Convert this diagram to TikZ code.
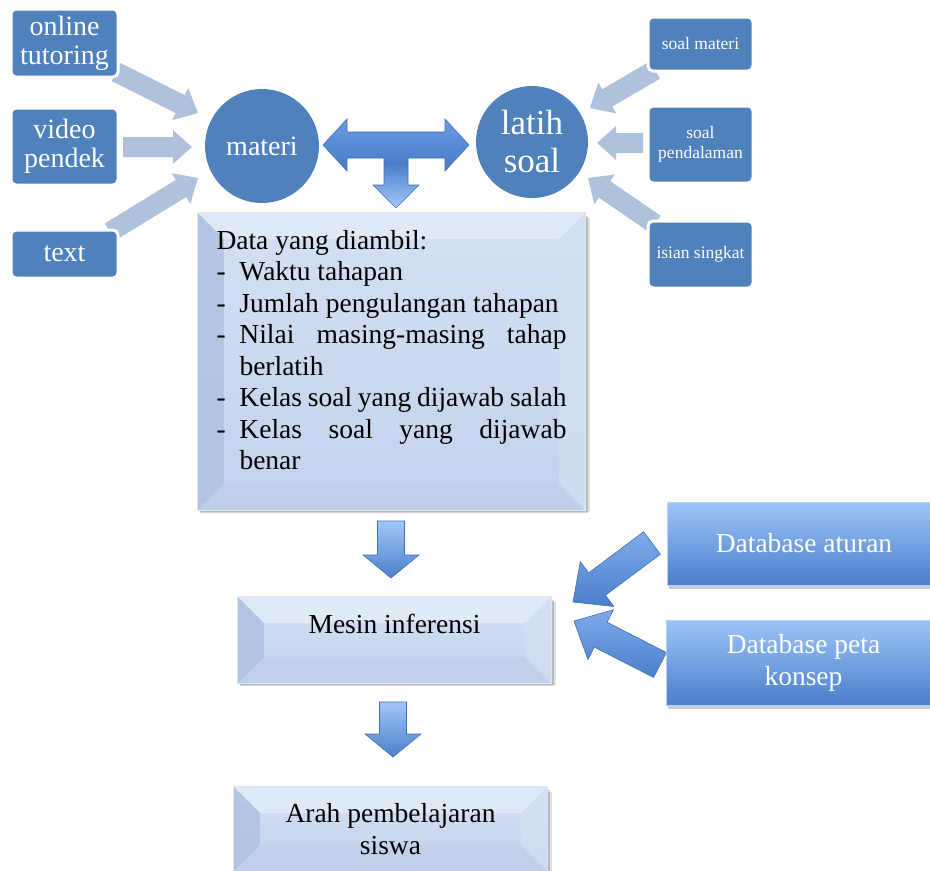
\documentclass[tikz,border=0pt]{standalone}
\usepackage{fontspec}
\setmainfont{Liberation Serif}
\usetikzlibrary{calc,backgrounds}

\definecolor{boxblue}{HTML}{4F81BD}
\definecolor{lightarr}{HTML}{B0C1DC}
\definecolor{faceT}{HTML}{D4E0F3}
\definecolor{faceB}{HTML}{C3D3EC}
\definecolor{bevTop}{HTML}{E4ECF8}
\definecolor{bevLeft}{HTML}{ADC0DD}
\definecolor{bevRight}{HTML}{D2DEF1}
\definecolor{bevBot}{HTML}{BCCCE6}
\definecolor{bevEdge}{HTML}{DCE6F4}
\definecolor{dbT}{HTML}{9EC4F8}
\definecolor{dbB}{HTML}{4A7FCB}
\definecolor{dbEdge}{HTML}{B6D2FA}
\definecolor{arrT}{HTML}{A2C6F8}
\definecolor{arrB}{HTML}{4C80CB}
\definecolor{dbaT}{HTML}{7FABEA}
\definecolor{dbaB}{HTML}{4A7FCB}
\definecolor{tarT}{HTML}{6B9DE2}
\definecolor{tarM}{HTML}{4A7ECA}
\definecolor{tarB}{HTML}{A6C8F9}
\definecolor{arrEdge}{HTML}{3F6FB5}

% block arrow: #1 style, #2 tail, #3 tip, #4 shaft half width, #5 head half width, #6 head length
\newcommand\blockarr[6]{%
  \coordinate (ba-h) at ($(#3)!#6!(#2)$);
  \path[#1] ($(#2)!#4!90:(#3)$) -- ($(ba-h)!#4!90:(#3)$) -- ($(ba-h)!#5!90:(#3)$)
    -- (#3) -- ($(ba-h)!#5!-90:(#3)$) -- ($(ba-h)!#4!-90:(#3)$) -- ($(#2)!#4!-90:(#3)$) -- cycle;}

% bevel decoration behind a node: #1 node name, #2 bevel size
\newcommand\bevelize[2]{%
  \begin{scope}[on background layer]
    \fill[black,opacity=0.12] ([xshift=2pt,yshift=-2pt]#1.south west) rectangle ([xshift=5pt,yshift=-5pt]#1.north east);
    \fill[black,opacity=0.18] ([xshift=2pt,yshift=-3pt]#1.south west) rectangle ([xshift=3pt,yshift=-3pt]#1.north east);
    \shade[top color=faceT,bottom color=faceB] (#1.south west) rectangle (#1.north east);
    \fill[bevTop,opacity=0.8] (#1.north west) -- (#1.north east) -- ([xshift=-#2,yshift=-#2]#1.north east) -- ([xshift=#2,yshift=-#2]#1.north west) -- cycle;
    \fill[bevLeft,opacity=0.8] (#1.north west) -- ([xshift=#2,yshift=-#2]#1.north west) -- ([xshift=#2,yshift=#2]#1.south west) -- (#1.south west) -- cycle;
    \fill[bevRight,opacity=0.8] (#1.north east) -- ([xshift=-#2,yshift=-#2]#1.north east) -- ([xshift=-#2,yshift=#2]#1.south east) -- (#1.south east) -- cycle;
    \fill[bevBot,opacity=0.45] (#1.south west) -- ([xshift=#2,yshift=#2]#1.south west) -- ([xshift=-#2,yshift=#2]#1.south east) -- (#1.south east) -- cycle;
    \draw[bevEdge,line width=0.8pt] (#1.south west) rectangle (#1.north east);
  \end{scope}}

\newcommand\itm[1]{\makebox[23pt][l]{-}#1}

\tikzset{
  labelbox/.style={fill=boxblue, draw=white, line width=3pt, rounded corners=5pt, text=white,
    inner sep=0pt, align=center, font=\fontsize{28}{29}\selectfont},
  smallbox/.style={labelbox, font=\fontsize{17.5}{20}\selectfont},
  circ/.style={circle, fill=boxblue, text=white, inner sep=0pt, align=center},
  lightarrow/.style={fill=lightarr},
  bluearrow/.style={top color=arrT, bottom color=arrB, draw=arrEdge, line width=0.6pt},
  dbarrow/.style={top color=dbaT, bottom color=dbaB, draw=arrEdge, line width=0.6pt},
  tarrow/.style={top color=tarT, bottom color=tarB, middle color=tarM, draw=arrEdge, line width=0.6pt},
  bevelnode/.style={inner sep=0pt, align=center, font=\fontsize{27.5}{32}\selectfont},
  dbbox/.style={top color=dbT, bottom color=dbB, draw=dbEdge, line width=0.8pt, inner sep=0pt,
    text=white, align=center, font=\fontsize{27.5}{32}\selectfont}
}

\begin{document}
\begin{tikzpicture}[x=1pt,y=-1pt]
\useasboundingbox (0,0) rectangle (930,871);
\clip (0,0) rectangle (930,871);

% ---------- connector end points ----------
\coordinate (a1t) at (116,72);   \coordinate (a1h) at (198,113);
\coordinate (a2t) at (123,147);  \coordinate (a2h) at (192,147);
\coordinate (a3t) at (110,232);  \coordinate (a3h) at (198,178);
\coordinate (b1t) at (655,70);   \coordinate (b1h) at (590,108);
\coordinate (b2t) at (643,143);  \coordinate (b2h) at (597,143);
\coordinate (b3t) at (655,224);  \coordinate (b3h) at (588,178);
\coordinate (d1t) at (391,521);  \coordinate (d1h) at (391,578);
\coordinate (d2t) at (393,702);  \coordinate (d2h) at (393,757);
\coordinate (e1t) at (652,543);  \coordinate (e1h) at (573,602);
\coordinate (e2t) at (660,665);  \coordinate (e2h) at (574,621);

% ---------- light input arrows ----------
\blockarr{lightarrow}{a1t}{a1h}{10pt}{18pt}{20pt}
\blockarr{lightarrow}{a2t}{a2h}{10pt}{17pt}{19pt}
\blockarr{lightarrow}{a3t}{a3h}{10pt}{18pt}{20pt}
\blockarr{lightarrow}{b1t}{b1h}{10pt}{18pt}{20pt}
\blockarr{lightarrow}{b2t}{b2h}{10pt}{17pt}{19pt}
\blockarr{lightarrow}{b3t}{b3h}{10pt}{18pt}{20pt}

% ---------- input boxes ----------
\node[labelbox, minimum width=107pt, minimum height=68pt] (online) at (64.5,43) {online\\tutoring};
\node[labelbox, minimum width=107pt, minimum height=77pt] (video) at (64.5,146.5) {video\\pendek};
\node[labelbox, minimum width=107pt, minimum height=48pt] (txt) at (64.5,254) {text};
\node[smallbox, minimum width=105pt, minimum height=54pt] (sm) at (700.5,44) {soal materi};
\node[smallbox, minimum width=105pt, minimum height=77pt] (sp) at (700.5,144.5) {soal\\pendalaman};
\node[smallbox, minimum width=105pt, minimum height=67pt] (is) at (700.5,254.5) {isian singkat};

% ---------- circles ----------
\node[circ, minimum size=114pt, font=\fontsize{28}{30}\selectfont] (materi) at (262,146) {materi};
\node[circ, minimum size=112pt, font=\fontsize{35}{38}\selectfont] (latih) at (532,142) {latih\\soal};

% ---------- T arrow ----------
\coordinate (T) at (396,145);
\path[tarrow, shift={(T)}] (-73,0) -- (-49,-26) -- (-49,-13) -- (49,-13) -- (49,-26) -- (73,0)
  -- (49,26) -- (49,13) -- (12,13) -- (12,40) -- (23,40) -- (0,63) -- (-23,40) -- (-12,40)
  -- (-12,13) -- (-49,13) -- (-49,26) -- cycle;

% ---------- data box ----------
\node[bevelnode, minimum width=387pt, minimum height=297pt] (data) at (391.5,361.5) {};
\bevelize{data}{26pt}
\node[inner sep=0pt, font=\fontsize{27.5}{31.5}\selectfont] (datatxt) at (391.5,350) {\parbox{350pt}{%
Data yang diambil:\\
\itm{Waktu tahapan}\\
\itm{Jumlah pengulangan tahapan}\\
\itm{\makebox[327pt][s]{Nilai masing-masing tahap}}\\
\hspace*{23pt}berlatih\\
\itm{\makebox[327pt][s]{Kelas soal yang dijawab salah}}\\
\itm{\makebox[327pt][s]{Kelas soal yang dijawab}}\\
\hspace*{23pt}benar}};

% ---------- inference engine ----------
\node[bevelnode, minimum width=313pt, minimum height=86pt] (mesin) at (394.5,640) {Mesin inferensi\\\mbox{}};
\bevelize{mesin}{26pt}
\node[bevelnode, minimum width=313pt, minimum height=84pt] (arah) at (390.5,829) {Arah pembelajaran\\siswa};
\bevelize{arah}{26pt}

% ---------- down arrows ----------
\blockarr{bluearrow}{d1t}{d1h}{13.5pt}{28pt}{23pt}
\blockarr{bluearrow}{d2t}{d2h}{13.5pt}{28pt}{23pt}

% ---------- database arrows ----------
\blockarr{dbarrow}{e1t}{e1h}{14pt}{28pt}{30pt}
\blockarr{dbarrow}{e2t}{e2h}{14pt}{28pt}{30pt}

% ---------- databases ----------
\fill[black,opacity=0.2] (669,506) rectangle (935,589);
\fill[black,opacity=0.2] (668,624) rectangle (935,709);
\node[dbbox, minimum width=274pt, minimum height=83pt] (db1) at (804,543.5) {Database aturan};
\node[dbbox, minimum width=275pt, minimum height=85pt] (db2) at (803.5,662.5) {Database peta\\konsep};
\end{tikzpicture}
\end{document}
